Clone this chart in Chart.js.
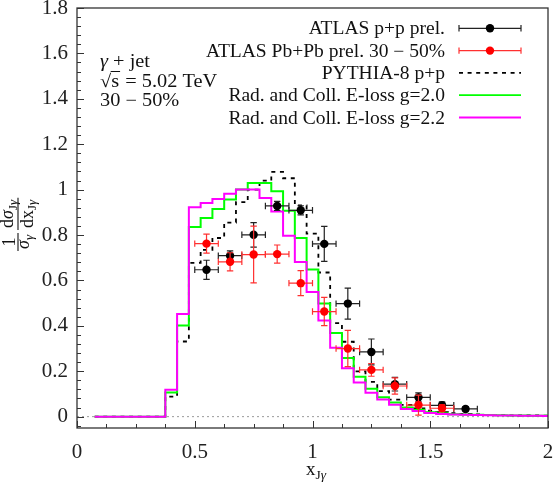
<!DOCTYPE html>
<html><head><meta charset="utf-8">
<script src="https://cdn.jsdelivr.net/npm/chart.js@4.4.0/dist/chart.umd.min.js"></script>
<style>html,body{margin:0;padding:0;background:#fff;}canvas{display:block;}</style>
</head><body>
<canvas id="c" width="555" height="494"></canvas>
<script>
// ---- data ----
const binCenters = [0.1,0.15,0.2,0.25,0.3,0.35,0.4,0.45,0.5,0.55,0.6,0.65,0.7,0.75,0.8,0.85,0.9,0.95,1.0,1.05,1.1,1.15,1.2,1.25,1.3,1.35,1.4,1.45,1.5,1.55,1.6,1.65,1.7,1.75,1.8,1.85,1.9,1.95,2.0];
const binHalfWidth = 0.025;
const pythiaPP = [0,0,0,0,0,0,0.088,0.331,0.677,0.735,0.787,0.855,0.945,1.0,1.04,1.078,1.05,0.93,0.806,0.635,0.412,0.330,0.199,0.153,0.112,0.075,0.052,0.036,0.026,0.020,0.015,0.012,0.010,0.008,0.007,0.006,0.005,0.005,0.004];
const elossG20 = [0,0,0,0,0,0,0.106,0.401,0.835,0.875,0.915,0.956,1.0,1.029,1.029,0.993,0.907,0.787,0.648,0.498,0.368,0.258,0.176,0.123,0.085,0.062,0.040,0.030,0.019,0.015,0.011,0.009,0.008,0.007,0.006,0.005,0.005,0.004,0.004];
const elossG22 = [0,0,0,0,0,0,0.118,0.452,0.922,0.941,0.959,0.982,1.0,1.0,0.963,0.904,0.797,0.681,0.549,0.423,0.304,0.213,0.150,0.105,0.075,0.052,0.034,0.025,0.016,0.012,0.009,0.008,0.007,0.006,0.005,0.005,0.004,0.004,0.003];

const ppX   = [0.55,0.65,0.75,0.85,0.95,1.05,1.15,1.25,1.35,1.45,1.55,1.65];
const ppY   = [0.647,0.709,0.801,0.928,0.909,0.761,0.498,0.285,0.143,0.085,0.050,0.034];
const ppErr = [0.042,0.021,0.054,0.020,0.020,0.077,0.068,0.057,0.030,0.020,0.015,0.010];
const ppXErr= [0.05,0.05,0.05,0.05,0.05,0.05,0.05,0.05,0.05,0.05,0.05,0.05];

const pbX   = [0.55,0.65,0.75,0.85,0.95,1.05,1.15,1.25,1.35,1.45,1.55];
const pbY   = [0.762,0.682,0.714,0.716,0.588,0.463,0.300,0.206,0.135,0.051,0.037];
const pbErr = [0.042,0.040,0.125,0.040,0.055,0.062,0.080,0.028,0.036,0.044,0.015];
const pbXErr= [0.05,0.05,0.05,0.05,0.05,0.05,0.05,0.05,0.05,0.05,0.05];

const xTicks = [0,0.5,1,1.5,2];
const yTicks = [0,0.2,0.4,0.6,0.8,1,1.2,1.4,1.6,1.8];
const xTickLabels = ['0','0.5','1','1.5','2'];
const yTickLabels = ['0','0.2','0.4','0.6','0.8','1','1.2','1.4','1.6','1.8'];

const legendLabels = ['ATLAS p+p prel.','ATLAS Pb+Pb prel. 30 \u2212 50%','PYTHIA-8 p+p','Rad. and Coll. E-loss g=2.0','Rad. and Coll. E-loss g=2.2'];

// ---- helpers ----
const FAM = '"Liberation Serif","DejaVu Serif",serif';
const fnt = (s, it) => (it ? 'italic ' : '') + s + 'px ' + FAM;
function hist(vals){
  const pts = [];
  binCenters.forEach((c,i)=>{ pts.push({x:c-binHalfWidth,y:vals[i]}); pts.push({x:c+binHalfWidth,y:vals[i]}); });
  return pts;
}
function drawRuns(c, x, y, runs){
  let cx = x;
  for (const r of runs){ c.font = fnt(r[1], r[2]); c.fillText(r[0], cx, y + (r[3]||0)); cx += c.measureText(r[0]).width; }
  return cx - x;
}
function runsWidth(c, runs){ let w=0; for (const r of runs){ c.font = fnt(r[1], r[2]); w += c.measureText(r[0]).width; } return w; }

// ---- plugins ----
const errPlugin = {
  id:'errbars',
  beforeDatasetDraw(chart, args){
    const ds = chart.data.datasets[args.index];
    if (!ds.errY) return;
    const xs = chart.scales.x, ys = chart.scales.y, c = chart.ctx, cap = 3.2;
    c.save();
    c.strokeStyle = ds.errColor; c.lineWidth = 1.2;
    ds.data.forEach((p,i)=>{
      const px = xs.getPixelForValue(p.x), py = ys.getPixelForValue(p.y);
      const xl = xs.getPixelForValue(p.x - ds.errX[i]), xr = xs.getPixelForValue(p.x + ds.errX[i]);
      const yt = ys.getPixelForValue(p.y + ds.errY[i]), yb = ys.getPixelForValue(p.y - ds.errY[i]);
      c.beginPath();
      c.moveTo(xl,py); c.lineTo(xr,py);
      c.moveTo(xl,py-cap); c.lineTo(xl,py+cap);
      c.moveTo(xr,py-cap); c.lineTo(xr,py+cap);
      c.moveTo(px,yt); c.lineTo(px,yb);
      c.moveTo(px-cap,yt); c.lineTo(px+cap,yt);
      c.moveTo(px-cap,yb); c.lineTo(px+cap,yb);
      c.stroke();
    });
    c.restore();
  }
};

const framePlugin = {
  id:'frame',
  afterDatasetsDraw(chart){
    const c = chart.ctx, {left,right,top,bottom} = chart.chartArea;
    const xs = chart.scales.x, ys = chart.scales.y;
    c.save();
    c.strokeStyle = '#333'; c.lineWidth = 1.3;
    c.strokeRect(left, top, right-left, bottom-top);
    c.lineWidth = 1;
    c.beginPath();
    for (let k=0; k<=16; k++){
      const v = k*0.125, px = Math.round(xs.getPixelForValue(v))+0.5;
      const L = (k%4===0) ? 7 : 4;
      c.moveTo(px,bottom); c.lineTo(px,bottom-L);
    }
    for (let k=-1; k<=45; k++){
      const v = k*0.04; if (v < ys.min || v > ys.max) continue;
      const py = Math.round(ys.getPixelForValue(v))+0.5;
      const L = (k%5===0) ? 7 : 4;
      c.moveTo(left,py); c.lineTo(left+L,py);
    }
    c.stroke();
    c.restore();
  }
};

function fillScaled(c, t, x, y, sx, align){
  c.save(); c.translate(x, y); c.scale(sx, 1); c.textAlign = align || 'left'; c.fillText(t, 0, 0); c.restore();
  return c.measureText(t).width * sx;
}

const textPlugin = {
  id:'texts',
  afterDraw(chart){
    const c = chart.ctx;
    c.save();
    c.fillStyle = '#111';
    c.textBaseline = 'alphabetic';
    // legend
    const rowY = [28.3, 50.6, 72.9, 95.2, 117.5];
    const txtRight = 445, sx0 = 459, sx1 = 521, sxm = 490;
    c.font = fnt(18);
    legendLabels.forEach((t,i)=>{ fillScaled(c, t, txtRight, rowY[i]+6, 1.085, 'right'); });
    // samples
    const ptSample = (y, col, ecol)=>{
      c.strokeStyle = ecol; c.lineWidth = 1.2;
      c.beginPath(); c.moveTo(sx0,y); c.lineTo(sx1,y);
      c.moveTo(sx0,y-3.2); c.lineTo(sx0,y+3.2); c.moveTo(sx1,y-3.2); c.lineTo(sx1,y+3.2); c.stroke();
      c.fillStyle = col; c.beginPath(); c.arc(sxm,y,4.2,0,Math.PI*2); c.fill();
    };
    ptSample(rowY[0], '#000', '#222');
    ptSample(rowY[1], '#ff0000', '#ff3030');
    c.lineWidth = 1.8;
    c.strokeStyle = '#000'; c.setLineDash([4,4.6]);
    c.beginPath(); c.moveTo(sx0,rowY[2]); c.lineTo(sx1,rowY[2]); c.stroke();
    c.setLineDash([]);
    c.strokeStyle = '#00ff00'; c.beginPath(); c.moveTo(sx0,rowY[3]); c.lineTo(sx1,rowY[3]); c.stroke();
    c.strokeStyle = '#ff00ff'; c.beginPath(); c.moveTo(sx0,rowY[4]); c.lineTo(sx1,rowY[4]); c.stroke();

    // annotation
    c.fillStyle = '#111';
    const ax = 100, AS = 18, SX = 1.13;
    let cx = ax;
    c.font = fnt(AS, true); cx += fillScaled(c, '\u03b3', cx, 67, SX);
    c.font = fnt(AS); fillScaled(c, ' + jet', cx, 67, SX);
    c.font = fnt(AS);
    cx = ax;
    cx += fillScaled(c, '\u221a', cx, 86.5, SX);
    const sStart = cx;
    cx += fillScaled(c, 's', cx, 86.5, SX);
    c.strokeStyle = '#111'; c.lineWidth = 1;
    c.beginPath(); c.moveTo(sStart-0.5, 71.5); c.lineTo(cx+1, 71.5); c.stroke();
    fillScaled(c, ' = 5.02 TeV', cx+1, 86.5, SX);
    fillScaled(c, '30 \u2212 50%', ax, 105.5, SX);

    // x axis title
    const xr = [['x',19,false],['J',13.5,false,4],['\u03b3',13.5,true,4]];
    const xw = runsWidth(c, xr);
    drawRuns(c, 316 - xw/2, 475, xr);

    // y axis title (rotated fraction)
    c.save();
    c.translate(18, 251);
    c.rotate(-Math.PI/2);
    c.strokeStyle = '#111'; c.lineWidth = 1.1;
    const M = 18, S = 13;
    // fraction 1: 1 / sigma_gamma
    const den1 = [['\u03c3',M,true],['\u03b3',S,true,3.5]];
    const w1 = runsWidth(c, den1) + 4;
    c.beginPath(); c.moveTo(0,0); c.lineTo(w1,0); c.stroke();
    c.font = fnt(M); const wOne = c.measureText('1').width;
    c.fillText('1', (w1-wOne)/2, -3.5);
    drawRuns(c, 2, 11, den1);
    // fraction 2
    const num2 = [['d',M,false],['\u03c3',M,true],['J',S,false,3.5],['\u03b3',S,true,3.5]];
    const den2 = [['dx',M,false],['J',S,false,3.5],['\u03b3',S,true,3.5]];
    const wn = runsWidth(c, num2), wd = runsWidth(c, den2);
    const w2 = Math.max(wn, wd) + 4, o2 = w1 + 3;
    c.beginPath(); c.moveTo(o2,0); c.lineTo(o2+w2,0); c.stroke();
    drawRuns(c, o2 + (w2-wn)/2, -5, num2);
    drawRuns(c, o2 + (w2-wd)/2, 14.5, den2);
    c.restore();

    c.restore();
  }
};

// ---- chart ----
const tickFont = {family: FAM, size: 21, lineHeight: 1};
new Chart(document.getElementById('c').getContext('2d'), {
  type: 'line',
  data: {
    datasets: [
      {label:'ATLAS Pb+Pb prel. 30-50%', type:'scatter', data: pbX.map((x,i)=>({x, y:pbY[i]})), errY: pbErr, errX: pbXErr, errColor:'#ff3030',
        pointRadius:4.2, pointHoverRadius:4.2, backgroundColor:'#ff0000', borderWidth:0, order:0},
      {label:'ATLAS p+p prel.', type:'scatter', data: ppX.map((x,i)=>({x, y:ppY[i]})), errY: ppErr, errX: ppXErr, errColor:'#222',
        pointRadius:4.2, pointHoverRadius:4.2, backgroundColor:'#000', borderWidth:0, order:1},
      {label:'g=2.2', data: hist(elossG22), borderColor:'#ff00ff', borderWidth:2, pointRadius:0, fill:false, tension:0, order:2},
      {label:'g=2.0', data: hist(elossG20), borderColor:'#00ff00', borderWidth:2, pointRadius:0, fill:false, tension:0, order:3},
      {label:'PYTHIA', data: hist(pythiaPP), borderColor:'#000', borderWidth:1.8, borderDash:[4,4.6], pointRadius:0, fill:false, tension:0, order:4},
      {label:'zero', data: [{x:0,y:0},{x:2,y:0}], borderColor:'#999', borderWidth:1, borderDash:[2,3], pointRadius:0, order:5}
    ]
  },
  options: {
    responsive: false,
    animation: false,
    devicePixelRatio: 1,
    layout: {padding: {top: 8, right: 7, left: 0, bottom: 0}},
    plugins: {legend: {display:false}, tooltip: {enabled:false}},
    scales: {
      x: {
        type:'linear', min:0, max:2,
        grid:{display:false, drawTicks:false}, border:{display:false},
        afterBuildTicks(s){ s.ticks = xTicks.map(v=>({value:v})); },
        ticks:{font: tickFont, color:'#222', padding:14, maxRotation:0, autoSkip:false,
          callback:(v)=> xTickLabels[xTicks.indexOf(v)] ?? ''},
        afterFit(s){ s.height = 66; s.paddingLeft = 0; s.paddingRight = 0; }
      },
      y: {
        type:'linear', min:-0.05, max:1.8,
        grid:{display:false, drawTicks:false}, border:{display:false},
        afterBuildTicks(s){ s.ticks = yTicks.map(v=>({value:v})); },
        ticks:{font: tickFont, color:'#222', padding:9, autoSkip:false,
          callback:(v)=> yTickLabels[yTicks.indexOf(v)] ?? ''},
        afterFit(s){ s.width = 77; s.paddingTop = 0; s.paddingBottom = 0; }
      }
    }
  },
  plugins: [errPlugin, framePlugin, textPlugin]
});
</script>
</body></html>
